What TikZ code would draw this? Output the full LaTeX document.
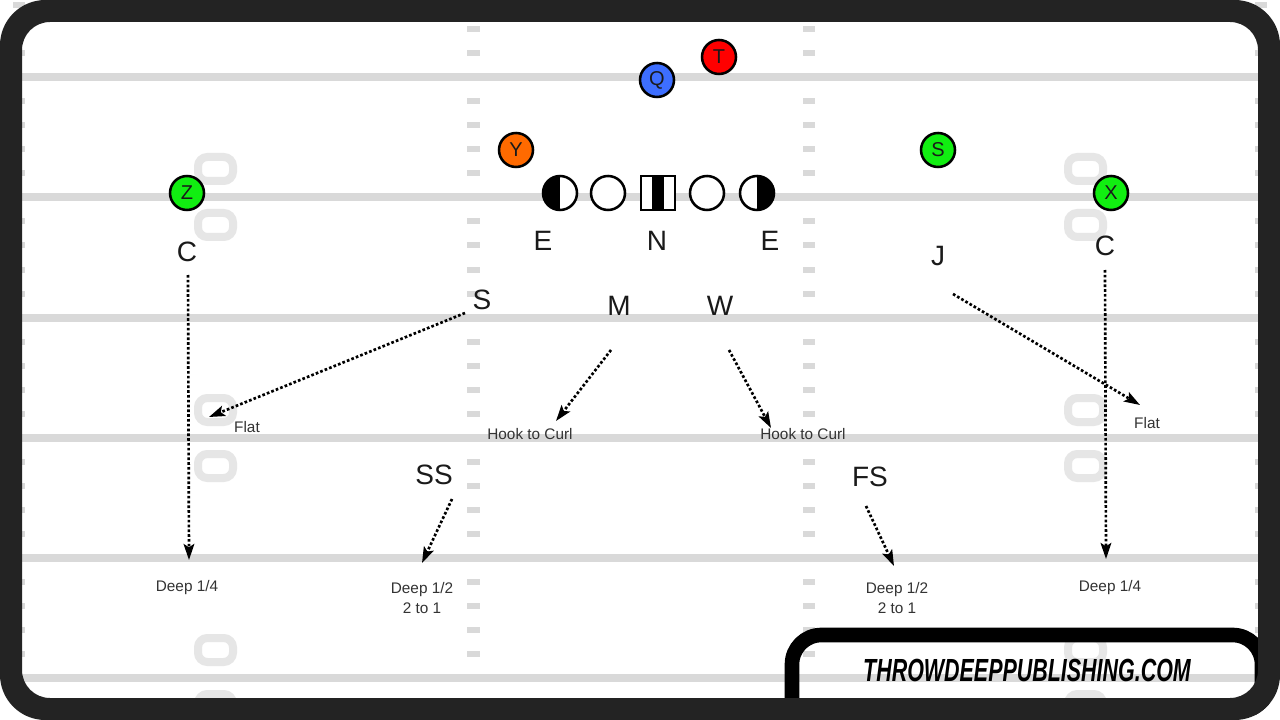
\documentclass[tikz,border=0pt]{standalone}
\usepackage{fontspec}
\usepackage{graphicx}
\setmainfont{Liberation Sans}
\usetikzlibrary{arrows.meta}

\definecolor{yardgray}{HTML}{D9D9D9}
\definecolor{numgray}{HTML}{E6E6E6}
\definecolor{framegray}{HTML}{232323}
\definecolor{ink}{HTML}{1A1A1A}
\definecolor{zonegray}{HTML}{333333}
\definecolor{qblue}{HTML}{3D6EFF}
\definecolor{tred}{HTML}{FF0000}
\definecolor{yorange}{HTML}{FF6A00}
\definecolor{rgreen}{HTML}{11EE11}

\begin{document}
\begin{tikzpicture}[x=0.75pt,y=-0.75pt,
  yard/.style={draw=yardgray, line width=6pt},
  hash/.style={fill=yardgray},
  numbox/.style={draw=numgray, line width=6pt, rounded corners=7pt},
  player/.style={circle, draw=black, line width=1.9pt, minimum size=25.5pt, inner sep=0pt,
    font=\fontsize{15}{15}\selectfont, text=ink},
  lineman/.style={circle, draw=black, line width=1.9pt, minimum size=25.5pt, inner sep=0pt, fill=white},
  halfleft/.style={lineman, path picture={\fill[black] (path picture bounding box.north) rectangle (path picture bounding box.south west);}},
  halfright/.style={lineman, path picture={\fill[black] (path picture bounding box.north) rectangle (path picture bounding box.south east);}},
  center/.style={rectangle, draw=black, line width=1.9pt, minimum size=25.5pt, inner sep=0pt, fill=white,
    path picture={\fill[black] ([xshift=-4.3pt]path picture bounding box.north) rectangle ([xshift=4.3pt]path picture bounding box.south);}},
  defender/.style={font=\fontsize{21}{21}\selectfont, text=ink, inner sep=1pt},
  zone/.style={font=\fontsize{11.5}{15}\selectfont, text=zonegray, align=center, inner sep=1pt},
  flow/.style={-{Stealth[length=12pt,width=8pt,inset=2.5pt]}, line width=2pt, dash pattern=on 2pt off 1.6pt}]

\useasboundingbox (0,0) rectangle (1280,720);
\fill[white] (0,0) rectangle (1280,720);

% Field: yard lines, hash marks and numbers
\foreach \yl in {77,197,318,438,558,678}
  \draw[yard] (22,\yl) -- (1258,\yl);
\foreach \yl in {-43,77,197,318,438,558,678}
  \foreach \d in {-48,-24,24,48} {
    \fill[hash] (467,\yl+\d-3) rectangle (480,\yl+\d+3);
    \fill[hash] (803,\yl+\d-3) rectangle (815,\yl+\d+3);
    \fill[hash] (13,\yl+\d-3) rectangle (25,\yl+\d+3);
    \fill[hash] (1255,\yl+\d-3) rectangle (1267,\yl+\d+3);
  }
\foreach \yl in {197,438,678}
  \foreach \d in {-28,28} {
    \draw[numbox] (198,\yl+\d-12) rectangle (233,\yl+\d+12);
    \draw[numbox] (1068,\yl+\d-12) rectangle (1103,\yl+\d+12);
  }

% Offense
\node[player, fill=qblue] (q) at (657,80) {Q};
\node[player, fill=tred] (t) at (719,57) {T};
\node[player, fill=yorange] (y) at (516,150) {Y};
\node[player, fill=rgreen] (z) at (187,193) {Z};
\node[player, fill=rgreen] (x) at (1111,193) {X};
\node[player, fill=rgreen] (s) at (938,150) {S};

% Front
\node[halfleft] (endL) at (560,193) {};
\node[lineman] (tackleL) at (608,193) {};
\node[center] (nose) at (658,193) {};
\node[lineman] (tackleR) at (707,193) {};
\node[halfright] (endR) at (757,193) {};

% Defenders
\node[defender] (eL) at (543,241) {E};
\node[defender] (n) at (657,241) {N};
\node[defender] (eR) at (770,241) {E};
\node[defender] (cL) at (187,252) {C};
\node[defender] (cR) at (1105,246) {C};
\node[defender] (j) at (938,256) {J};
\node[defender] (sam) at (482,300) {S};
\node[defender] (m) at (619,306) {M};
\node[defender] (w) at (720,306) {W};
\node[defender] (ss) at (434,475) {SS};
\node[defender] (fs) at (870,477) {FS};

% Zones
\node[zone] (deepL) at (187,588) {Deep 1/4};
\node[zone] (flatL) at (247,427) {Flat};
\node[zone] (hookL) at (530,434) {Hook to Curl};
\node[zone] (hookR) at (803,434) {Hook to Curl};
\node[zone] (halfL) at (422,598) {Deep 1/2\\2 to 1};
\node[zone] (halfR) at (897,598) {Deep 1/2\\2 to 1};
\node[zone] (flatR) at (1147,423) {Flat};
\node[zone] (deepR) at (1110,588) {Deep 1/4};

% Drops
\coordinate (cLgo) at (188,275);   \coordinate (cLto) at (189,560);
\coordinate (samgo) at (465,313);  \coordinate (samto) at (209,417);
\coordinate (mgo) at (611,350);    \coordinate (mto) at (556,421);
\coordinate (wgo) at (729,350);    \coordinate (wto) at (771,428);
\coordinate (ssgo) at (452,499);   \coordinate (ssto) at (422,563);
\coordinate (fsgo) at (866,506);   \coordinate (fsto) at (894,566);
\coordinate (jgo) at (953,294);    \coordinate (jto) at (1140,405);
\coordinate (cRgo) at (1105,270);  \coordinate (cRto) at (1106,559);
\draw[flow] (cLgo) -- (cLto);
\draw[flow] (samgo) -- (samto);
\draw[flow] (mgo) -- (mto);
\draw[flow] (wgo) -- (wto);
\draw[flow] (ssgo) -- (ssto);
\draw[flow] (fsgo) -- (fsto);
\draw[flow] (jgo) -- (jto);
\draw[flow] (cRgo) -- (cRto);

% Logo and frame
\begin{scope}
  \clip[rounded corners=34pt] (0,0) rectangle (1280,720);
  \draw[line width=11pt, rounded corners=22pt] (792,635) rectangle (1262,760);
\end{scope}
\node[font=\fontsize{24}{24}\selectfont\bfseries\itshape, text=black] (logo) at (1027,670)
  {\scalebox{0.67}[1]{THROWDEEPPUBLISHING.COM}};
\fill[framegray, even odd rule, rounded corners=34pt] (0,0) rectangle (1280,720)
  [rounded corners=21pt] (22,22) rectangle (1258,698);

\end{tikzpicture}
\end{document}
